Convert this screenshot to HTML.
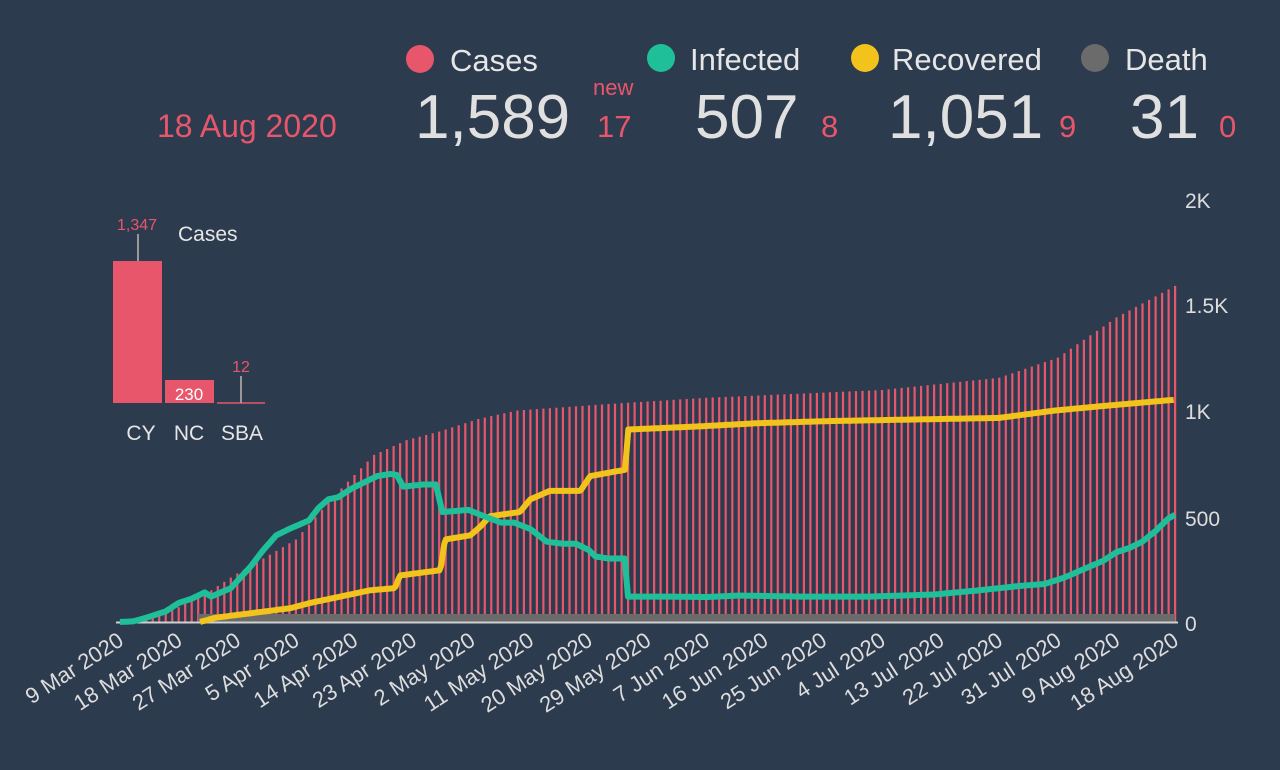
<!DOCTYPE html>
<html><head><meta charset="utf-8"><style>
html,body{margin:0;padding:0;background:#2d3b4e;}
svg{display:block;font-family:"Liberation Sans",sans-serif;}
</style></head><body>
<svg id="s" width="1280" height="770" xmlns="http://www.w3.org/2000/svg">
<rect width="1280" height="770" fill="#2d3b4e"/>
<g font-size="31" fill="#e6e6e6">
<circle cx="420" cy="59" r="14" fill="#e8566b"/><text x="450" y="71">Cases</text>
<circle cx="661" cy="58" r="14" fill="#1fbf9a"/><text x="690" y="70">Infected</text>
<circle cx="865" cy="58" r="14" fill="#f2c31a"/><text x="892" y="70">Recovered</text>
<circle cx="1095" cy="58" r="14" fill="#6b6b6b"/><text x="1125" y="70">Death</text>
</g>
<text x="157" y="137" font-size="32" fill="#e8566b">18 Aug 2020</text>
<g font-size="62" fill="#e0e0e0">
<text x="415" y="138">1,589</text><text x="695" y="138">507</text>
<text x="888" y="138">1,051</text><text x="1130" y="138">31</text>
</g>
<g font-size="31" fill="#e8566b">
<text x="593" y="95" font-size="22">new</text>
<text x="597" y="137">17</text><text x="821" y="137">8</text>
<text x="1059" y="137">9</text><text x="1219" y="137">0</text>
</g>
<g font-size="21" fill="#dddddd">
<text x="1185" y="208">2K</text><text x="1185" y="313">1.5K</text>
<text x="1185" y="419">1K</text><text x="1185" y="526">500</text>
<text x="1185" y="631">0</text>
</g>
<rect x="113" y="261" width="49" height="142" fill="#e8566b"/>
<rect x="165" y="380" width="49" height="23" fill="#e8566b"/>
<line x1="217" y1="403" x2="265" y2="403" stroke="#e8566b" stroke-width="1.5"/>
<line x1="138" y1="234" x2="138" y2="261" stroke="#999" stroke-width="2"/>
<line x1="241" y1="376" x2="241" y2="403" stroke="#999" stroke-width="2"/>
<text x="137" y="230" font-size="16" fill="#e8566b" text-anchor="middle">1,347</text>
<text x="241" y="372" font-size="16" fill="#e8566b" text-anchor="middle">12</text>
<text x="189" y="400" font-size="17" fill="#fff" text-anchor="middle">230</text>
<text x="178" y="241" font-size="21" fill="#e6e6e6">Cases</text>
<g font-size="21" fill="#e6e6e6" text-anchor="middle">
<text x="141" y="440">CY</text><text x="189" y="440">NC</text><text x="242" y="440">SBA</text>
</g>
<g id="chart"></g>
</svg>
<script>
var X0=120,DX=1055/162,Y0=622,K=0.2115;
function X(d){return X0+d*DX;}function Y(v){return Y0-v*K;}
function interp(pts,d){for(var i=0;i<pts.length-1;i++){var a=pts[i],b=pts[i+1];if(d>=a[0]&&d<=b[0]){if(b[0]==a[0])return b[1];return a[1]+(b[1]-a[1])*(d-a[0])/(b[0]-a[0]);}}return pts[pts.length-1][1];}
function interpS(pts,d){return interp(pts,d);}
var cases=[[0,2],[5,30],[9,70],[14,150],[18,230],[22,300],[27,390],[33,600],[39,790],[44,860],[49,900],[55,960],[61,1000],[77,1035],[90,1060],[117,1097],[135,1155],[144,1250],[153,1440],[162,1589]];
var infD=[[0,0],[2,3],[4,20],[7,50],[9,90],[11,110],[13,140],[14,120],[17,160],[20,260],[22,340],[24,410],[26,440],[29,480],[30.5,540],[32,580],[33.5,590],[35.5,630],[37.5,660],[39.5,690],[41.5,700],[42.5,695],[43.5,640],[46.5,650],[48.5,650],[49.5,520],[53.5,530],[55.5,505],[58.5,470],[60.5,470],[63,440],[65.5,380],[68,370],[70,370],[72,340],[73,310],[75,300],[77.5,300],[78,120],[85,120],[90,118],[95,125],[105,120],[115,120],[125,130],[132,150],[138,170],[142,180],[145,210],[148,250],[151,290],[153,330],[155,350],[157,380],[159,430],[161,490],[162,507]];
var rec=[[12.3,0],[14.6,20],[26.1,65],[29.2,90],[33.8,120],[38.4,150],[42.2,160],[43,220],[49.2,245],[49.9,390],[53.8,410],[55.3,450],[56.8,500],[61.4,520],[63,580],[66,620],[70.7,620],[72.2,690],[77.6,720],[78,910],[89,925],[98,940],[109,950],[135,965],[143.6,1000],[150.5,1020],[162,1051]];
var g=document.getElementById('chart'),h='';
for(var d=0;d<=162;d++){var v=interp(cases,d);h+='<rect x="'+(X(d)-1).toFixed(1)+'" y="'+Y(v).toFixed(1)+'" width="2.2" height="'+(v*K).toFixed(1)+'" fill="#e8566b"/>';}
h+='<rect x="'+X(12)+'" y="614" width="'+(X(162)-X(12))+'" height="8" fill="#6b6b6b"/>';
h+='<line x1="116" y1="622.5" x2="1178" y2="622.5" stroke="#d0d0d0" stroke-width="2"/>';
function path(pts,c){var s='';for(var d=pts[0][0];d<=162.01;d+=0.25){s+=(s?'L':'M')+X(d).toFixed(1)+','+Y(interp(pts,d)).toFixed(1);}return '<path d="'+s+'" fill="none" stroke="'+c+'" stroke-width="6" stroke-linejoin="round"/>';}
h+=path(rec,'#f2c31a');h+=path(infD,'#1fbf9a');
var labs=['9 Mar 2020','18 Mar 2020','27 Mar 2020','5 Apr 2020','14 Apr 2020','23 Apr 2020','2 May 2020','11 May 2020','20 May 2020','29 May 2020','7 Jun 2020','16 Jun 2020','25 Jun 2020','4 Jul 2020','13 Jul 2020','22 Jul 2020','31 Jul 2020','9 Aug 2020','18 Aug 2020'];
for(var i=0;i<labs.length;i++){var x=X(i*9)+5;h+='<text transform="translate('+x.toFixed(1)+',644) rotate(-33)" text-anchor="end" font-size="22" fill="#dddddd">'+labs[i]+'</text>';}
g.innerHTML=h;
</script>
</body></html>
